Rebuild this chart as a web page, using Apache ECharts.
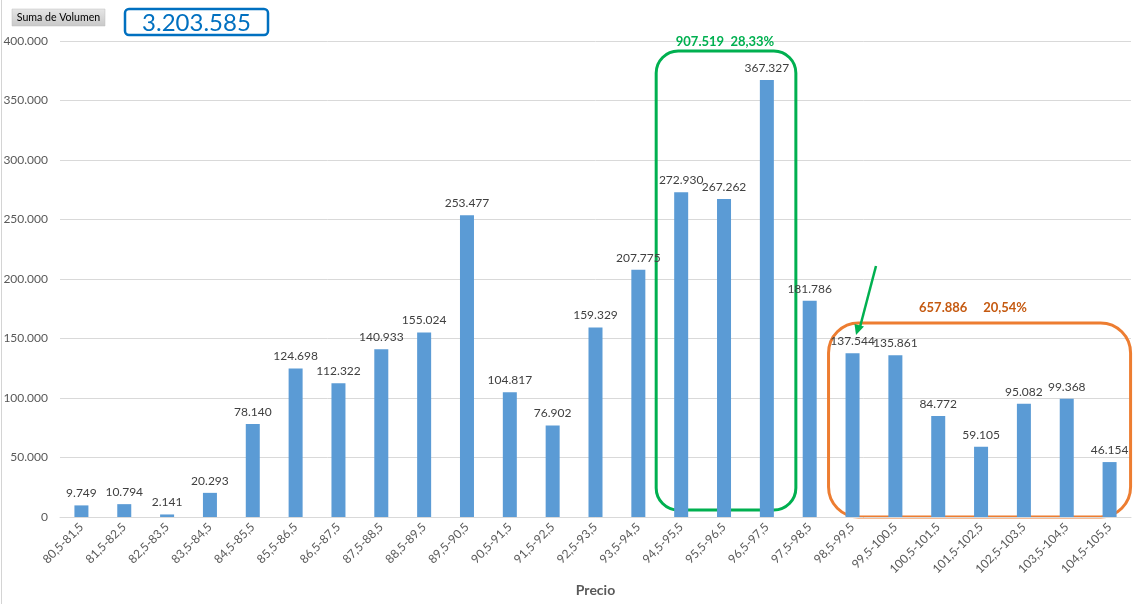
<!DOCTYPE html>
<html><head><meta charset="utf-8">
<script src="https://cdn.jsdelivr.net/npm/echarts@6/dist/echarts.min.js"></script>
<style>html,body{margin:0;padding:0;background:#fff}#c{width:1141px;height:604px}</style>
</head><body><div id="c"></div>
<script>
const categories = ["80,5-81,5","81,5-82,5","82,5-83,5","83,5-84,5","84,5-85,5","85,5-86,5","86,5-87,5","87,5-88,5","88,5-89,5","89,5-90,5","90,5-91,5","91,5-92,5","92,5-93,5","93,5-94,5","94,5-95,5","95,5-96,5","96,5-97,5","97,5-98,5","98,5-99,5","99,5-100,5","100,5-101,5","101,5-102,5","102,5-103,5","103,5-104,5","104,5-105,5"];
const volumen = [9749,10794,2141,20293,78140,124698,112322,140933,155024,253477,104817,76902,159329,207775,272930,267262,367327,181786,137544,135861,84772,59105,95082,99368,46154];
const totalText = "3.203.585";
const greenText = "907.519  28,33%";
const orangeText = "657.886     20,54%";
const FONT = "Lato, 'Open Sans', sans-serif";
const fmt = v => String(v).replace(/\B(?=(\d{3})+(?!\d))/g, ".");

const chart = echarts.init(document.getElementById('c'));
chart.setOption({
  animation: false,
  textStyle: {fontFamily: FONT},
  grid: {left: 60, right: 10, top: 41, bottom: 87, containLabel: false},
  xAxis: {
    type: 'category', data: categories,
    name: 'Precio', nameLocation: 'middle', nameGap: 66,
    nameTextStyle: {fontWeight: 'bold', fontSize: 14, color: '#595959', fontFamily: FONT},
    axisLine: {lineStyle: {color: '#d9d9d9'}},
    axisTick: {show: false},
    axisLabel: {rotate: 45, interval: 0, fontSize: 12, color: '#595959', margin: 8, fontFamily: FONT}
  },
  yAxis: {
    type: 'value', min: 0, max: 400000, interval: 50000,
    axisLine: {show: false}, axisTick: {show: false},
    splitLine: {lineStyle: {color: '#d9d9d9'}},
    axisLabel: {formatter: fmt, fontSize: 12, color: '#595959', margin: 12, fontFamily: FONT}
  },
  series: [{
    type: 'bar', data: volumen, barWidth: 14,
    itemStyle: {color: '#5b9bd5'},
    label: {show: true, position: 'top', formatter: p => fmt(p.value), fontSize: 12, color: '#404040', distance: 6, fontFamily: FONT}
  }]
});

// annotation overlays
const px = (i, v) => chart.convertToPixel({seriesIndex: 0}, [i, v]);
const g0 = px(14, 0), g2 = px(16, 0), o0 = px(18, 0), o2 = px(24, 0);
const base = g0[1];
chart.setOption({
  graphic: [
    {type: 'line', shape: {x1: 1.5, y1: 0, x2: 1.5, y2: 604}, style: {stroke: '#d4d4d4', lineWidth: 1}},
    {type: 'rect', shape: {x: 12, y: 9, width: 93, height: 17}, style: {fill: new echarts.graphic.LinearGradient(0,0,0,1,[{offset:0,color:'#e6e6e6'},{offset:1,color:'#c8c8c8'}]), stroke: '#bfbfbf', lineWidth: 0.5}},
    {type: 'text', x: 58.5, y: 17.5, style: {text: 'Suma de Volumen', font: '10.6px ' + FONT, fill: '#000', align: 'center', verticalAlign: 'middle'}},
    {type: 'rect', shape: {x: 125, y: 9, width: 143, height: 26, r: 4}, style: {fill: '#fff', stroke: '#0070c0', lineWidth: 2.5}},
    {type: 'text', x: 196.5, y: 23, style: {text: totalText, font: '24px ' + FONT, fill: '#0070c0', align: 'center', verticalAlign: 'middle'}},
    {type: 'rect', shape: {x: g0[0] - 25, y: 51, width: (g2[0] + 29) - (g0[0] - 25), height: base - 7 - 51, r: 22}, style: {fill: 'none', stroke: '#00b050', lineWidth: 3}},
    {type: 'text', x: (g0[0] + g2[0]) / 2 + 1, y: 42, style: {text: greenText, font: 'bold 13px ' + FONT, fill: '#00b050', align: 'center', verticalAlign: 'middle'}},
    {type: 'rect', shape: {x: o0[0] - 24, y: 323, width: (o2[0] + 21) - (o0[0] - 24), height: base - 323, r: 30}, style: {fill: 'none', stroke: '#ed7d31', lineWidth: 3}},
    {type: 'text', x: 973, y: 308, style: {text: orangeText, font: 'bold 13px ' + FONT, fill: '#c55a11', align: 'center', verticalAlign: 'middle'}},
    {type: 'line', shape: {x1: 876, y1: 266, x2: 860, y2: 327}, style: {stroke: '#00b050', lineWidth: 2.5}},
    {type: 'polygon', shape: {points: [[856, 335], [854.5, 324], [864, 326.5]]}, style: {fill: '#00b050'}}
  ]
});
</script></body></html>
